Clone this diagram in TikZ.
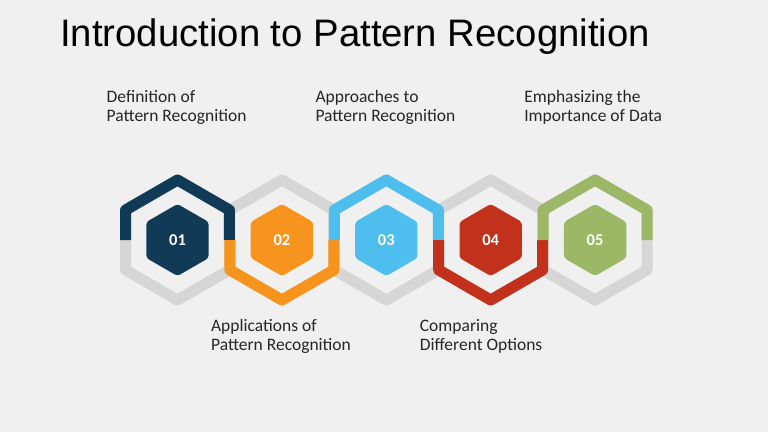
\documentclass[tikz,border=0pt]{standalone}
\usepackage{fontspec}
\setmainfont{Carlito}
\newfontfamily\titlefont{Liberation Sans}
\usetikzlibrary{positioning,calc}

\definecolor{pagebg}{HTML}{F1F0F0}
\definecolor{ringgray}{HTML}{D6D6D6}
\definecolor{hexnavy}{HTML}{113A57}
\definecolor{hexorange}{HTML}{F7941D}
\definecolor{hexblue}{HTML}{4DBEEE}
\definecolor{hexred}{HTML}{C1311C}
\definecolor{hexgreen}{HTML}{9CB766}

\tikzset{
  ring/.style={line width=11pt, line join=round},
  numtext/.style={text=white, font=\bfseries\fontsize{16.5}{19}\selectfont, inner sep=0pt},
  steplabel/.style={anchor=north west, align=left, inner sep=0pt,
    text=black!85, font=\fontsize{17.5}{19}\selectfont,
    execute at begin node=\rule{0pt}{13pt}}
}

\begin{document}
\begin{tikzpicture}[x=1pt, y=1pt]
  \fill[pagebg] (0,0) rectangle (768,432);
  \useasboundingbox (0,0) rectangle (768,432);

  \node[anchor=base west, inner sep=0pt, font=\titlefont\fontsize{38.3}{46}\selectfont]
    (title) at (60,385) {Introduction to Pattern Recognition};

  % centres of the five hexagons
  \foreach \i in {1,...,5} {
    \pgfmathsetmacro{\cx}{177.5+104.4*(\i-1)}
    \coordinate (c\i) at (\cx,192);
  }

  % grey rings underneath
  \foreach \i in {1,...,5} {
    \draw[ring, ringgray] ($(c\i)+(0,60)$) -- ++(-51.96,-30) -- ++(0,-60)
      -- ++(51.96,-30) -- ++(51.96,30) -- ++(0,60) -- cycle;
  }

  % coloured half rings, cores and numbers
  \foreach \i/\hue/\s/\num in {1/hexnavy/1/01, 2/hexorange/-1/02,
      3/hexblue/1/03, 4/hexred/-1/04, 5/hexgreen/1/05} {
    \draw[ring, \hue] ($(c\i)+(-51.96,0)$) -- ++(0,30*\s) -- ++(51.96,30*\s)
      -- ++(51.96,-30*\s) -- ++(0,-30*\s);
    \fill[\hue, rounded corners=3pt] ($(c\i)+(0,36)$) -- ++(-31.18,-18) -- ++(0,-36)
      -- ++(31.18,-18) -- ++(31.18,18) -- ++(0,36) -- cycle;
    \node[numtext] (hex\i) at (c\i) {\num};
  }

  % step labels
  \foreach \i/\dy/\txt in {1/150.2/{Definition of\\Pattern Recognition},
      2/-79.4/{Applications of\\Pattern Recognition},
      3/150.2/{Approaches to\\Pattern Recognition},
      4/-79.4/{Comparing\\Different Options},
      5/150.2/{Emphasizing the\\Importance of Data}} {
    \node[steplabel] (lbl\i) at ($(c\i)+(-71,\dy)$) {\txt};
  }
\end{tikzpicture}
\end{document}
